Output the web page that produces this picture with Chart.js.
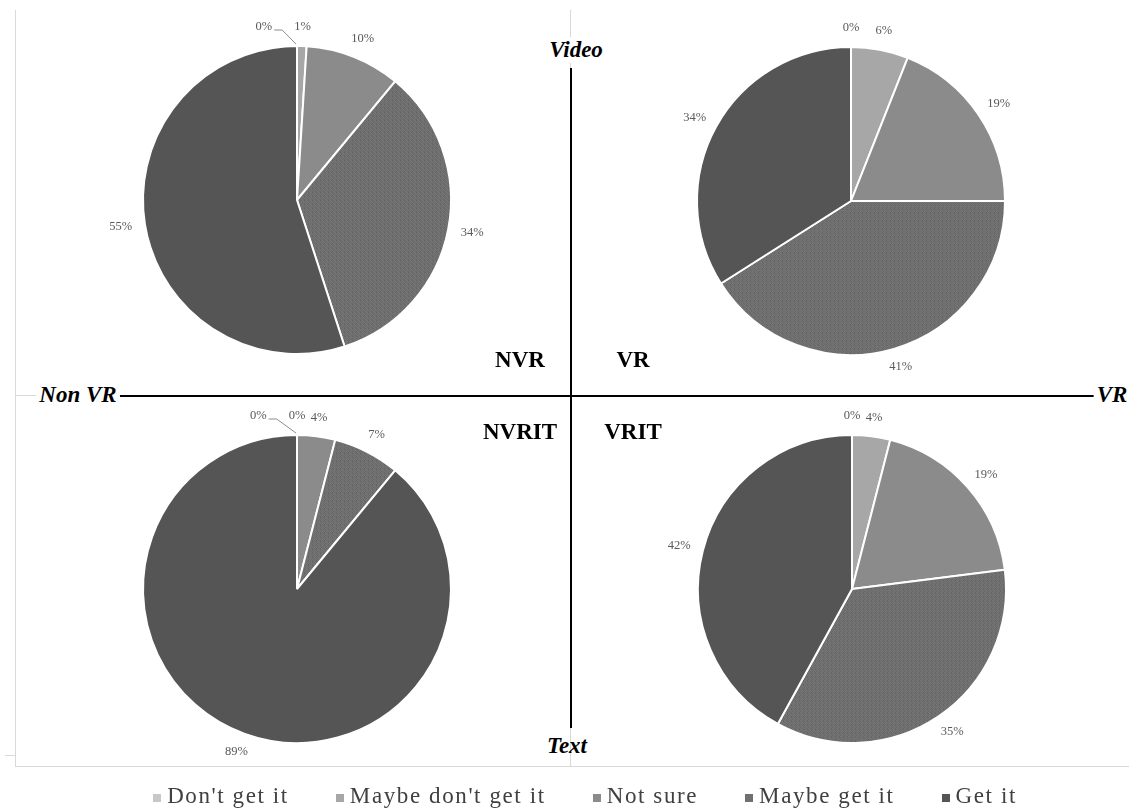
<!DOCTYPE html>
<html lang="en">
<head>
    <meta charset="UTF-8">
    <title>VR vs Non VR, Video vs Text</title>
    <style>
        body {
            margin: 0;
            padding: 0;
            background: #ffffff;
        }
        #stage {
            position: relative;
            width: 1129px;
            height: 810px;
            overflow: hidden;
            background: #ffffff;
            font-family: "Liberation Serif", "Times New Roman", serif;
        }
        .pie {
            position: absolute;
        }
        .line {
            position: absolute;
        }
        .gray { background: #d9d9d9; }
        .black { background: #000000; }
        .axis-label {
            position: absolute;
            font-weight: bold;
            font-style: italic;
            font-size: 23px;
            color: #000;
            white-space: nowrap;
            transform: translate(-50%, -50%);
        }
        .quad-label {
            position: absolute;
            font-weight: bold;
            font-size: 23px;
            color: #000;
            white-space: nowrap;
            transform: translate(-50%, -50%);
        }
        #legend {
            position: absolute;
            left: 0;
            width: 1170px;
            top: 783px;
            display: flex;
            justify-content: center;
            gap: 47px;
            font-size: 23px;
            letter-spacing: 1.6px;
            color: #404040;
        }
        #legend .item {
            display: flex;
            align-items: center;
            white-space: nowrap;
        }
        #legend .swatch {
            width: 8px;
            height: 8px;
            margin-right: 6px;
            margin-top: 4px;
        }
    </style>
</head>
<body>
<div id="stage">
    <!-- frame and axes -->
    <div class="line gray" style="left:15px; top:10px; width:1px; height:756px;"></div>
    <div class="line gray" style="left:15px; top:766px; width:1114px; height:1px;"></div>
    <div class="line gray" style="left:5px; top:755px; width:11px; height:1px;"></div>
    <div class="line gray" style="left:570px; top:10px; width:1px; height:756px;"></div>
    <div class="line gray" style="left:15px; top:395px; width:1114px; height:1px;"></div>
    <div class="line black" style="left:120px; top:395px; width:977px; height:2px;"></div>
    <div class="line black" style="left:570px; top:68px; width:2px; height:660px;"></div>

    <canvas class="pie" id="pieNVR" width="400" height="400"></canvas>
    <canvas class="pie" id="pieVR" width="400" height="400"></canvas>
    <canvas class="pie" id="pieNVRIT" width="400" height="400"></canvas>
    <canvas class="pie" id="pieVRIT" width="400" height="400"></canvas>

    <div class="axis-label" style="left:576px; top:50px; background:#fff; padding:0 3px;">Video</div>
    <div class="axis-label" style="left:567px; top:746px;">Text</div>
    <div class="axis-label" style="left:78px; top:395px; background:#fff; padding:0 3px;">Non VR</div>
    <div class="axis-label" style="left:1112px; top:395px; background:#fff; padding:0 3px;">VR</div>

    <div class="quad-label" style="left:520px; top:360px;">NVR</div>
    <div class="quad-label" style="left:633px; top:360px;">VR</div>
    <div class="quad-label" style="left:520px; top:432px;">NVRIT</div>
    <div class="quad-label" style="left:633px; top:432px;">VRIT</div>

    <div id="legend"></div>
</div>

<script src="https://cdn.jsdelivr.net/npm/chart.js"></script>
<script>
    // categories (slice order, clockwise from 12 o'clock)
    const categories = ["Don't get it", "Maybe don't get it", "Not sure", "Maybe get it", "Get it"];

    // percentages
    const nvrValues = [0, 1, 10, 34, 55];
    const vrValues = [0, 6, 19, 41, 34];
    const nvritValues = [0, 0, 4, 7, 89];
    const vritValues = [0, 4, 19, 35, 42];

    const sliceColors = ['#c8c8c8', '#a7a7a7', '#8b8b8b', null, '#555555'];

    // the "Maybe get it" slices have a grainy fill in the original
    function grainPattern() {
        const c = document.createElement('canvas');
        c.width = 4;
        c.height = 4;
        const g = c.getContext('2d');
        const shades = ['#6a6a6a', '#757575', '#707070', '#666666',
                        '#737373', '#6c6c6c', '#787878', '#6e6e6e',
                        '#696969', '#747474', '#6b6b6b', '#727272',
                        '#777777', '#6d6d6d', '#717171', '#676767'];
        for (let i = 0; i < 16; i++) {
            g.fillStyle = shades[i];
            g.fillRect(i % 4, Math.floor(i / 4), 1, 1);
        }
        return g.createPattern(c, 'repeat');
    }

    // percentage labels outside each slice, Excel style
    const pctLabels = {
        id: 'pctLabels',
        afterDatasetsDraw(chart) {
            const ctx = chart.ctx;
            const meta = chart.getDatasetMeta(0);
            const vals = chart.data.datasets[0].data;
            ctx.save();
            ctx.font = '12.5px "Liberation Serif", serif';
            ctx.textAlign = 'center';
            ctx.textBaseline = 'middle';
            const boxes = meta.data.map((arc, i) => {
                const p = arc.getProps(['x', 'y', 'startAngle', 'endAngle', 'outerRadius'], true);
                const mid = (p.startAngle + p.endAngle) / 2;
                const ux = Math.cos(mid), uy = Math.sin(mid);
                const text = Math.round(vals[i]) + '%';
                const w = ctx.measureText(text).width;
                const h = 12;
                const d = p.outerRadius + 13;
                return {
                    text, w, h,
                    x: p.x + d * ux + (w / 2) * ux,
                    y: p.y + d * uy + (h / 2) * uy,
                    ax: p.x + p.outerRadius * ux,
                    ay: p.y + p.outerRadius * uy,
                    moved: false
                };
            });
            // push colliding labels to the left and give them a leader line
            for (let i = boxes.length - 2; i >= 0; i--) {
                const a = boxes[i], b = boxes[i + 1];
                const overlap = Math.abs(a.y - b.y) < a.h && Math.abs(a.x - b.x) < (a.w + b.w) / 2;
                if (overlap) {
                    a.x = b.x - b.w / 2 - 22 - a.w / 2;
                    a.moved = true;
                }
            }
            boxes.forEach(b => {
                if (b.moved) {
                    ctx.strokeStyle = '#8c8c8c';
                    ctx.lineWidth = 1;
                    ctx.beginPath();
                    ctx.moveTo(b.x + b.w / 2 + 2, b.y + 3);
                    ctx.lineTo(b.x + b.w / 2 + 10, b.y + 3);
                    ctx.lineTo(b.ax - 1, b.ay - 2);
                    ctx.stroke();
                }
                ctx.fillStyle = '#595959';
                ctx.fillText(b.text, b.x, b.y);
            });
            ctx.restore();
        }
    };

    function createPie(id, values, cx, cy) {
        const canvas = document.getElementById(id);
        canvas.style.left = (cx - 200) + 'px';
        canvas.style.top = (cy - 200) + 'px';
        const colors = sliceColors.map(c => c || grainPattern());
        return new Chart(canvas.getContext('2d'), {
            type: 'pie',
            data: {
                labels: categories,
                datasets: [{
                    data: values,
                    backgroundColor: colors,
                    borderColor: '#ffffff',
                    borderWidth: 2,
                    hoverOffset: 0,
                    offset: 0
                }]
            },
            options: {
                responsive: false,
                animation: false,
                events: [],
                radius: 154,
                plugins: {
                    legend: { display: false },
                    tooltip: { enabled: false }
                }
            },
            plugins: [pctLabels]
        });
    }

    createPie('pieNVR', nvrValues, 297, 200);
    createPie('pieVR', vrValues, 851, 201);
    createPie('pieNVRIT', nvritValues, 297, 589);
    createPie('pieVRIT', vritValues, 852, 589);

    // legend built from the categories
    const legend = document.getElementById('legend');
    categories.forEach((name, i) => {
        const item = document.createElement('div');
        item.className = 'item';
        const sw = document.createElement('span');
        sw.className = 'swatch';
        sw.style.background = sliceColors[i] || '#707070';
        const label = document.createElement('span');
        label.textContent = name;
        item.appendChild(sw);
        item.appendChild(label);
        legend.appendChild(item);
    });
</script>
</body>
</html>
